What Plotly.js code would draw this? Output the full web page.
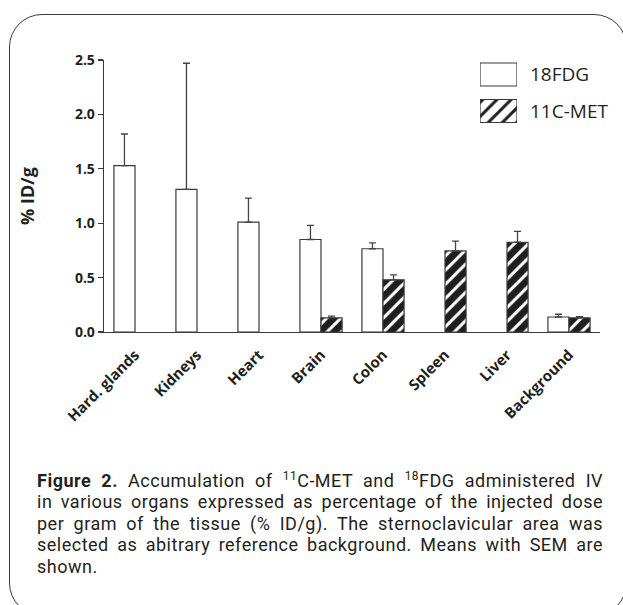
<!DOCTYPE html>
<html>
<head>
<meta charset="utf-8">
<script src="https://cdn.plot.ly/plotly-3.0.1.min.js"></script>
<style>
  html, body { margin:0; padding:0; width:623px; height:605px; overflow:hidden; background:#fff; }
  #frame { position:absolute; left:9px; top:14px; width:618px; height:602px; box-sizing:border-box;
           border:1.4px solid #3a3a3a; border-radius:33px; }
  #chart { position:absolute; left:0; top:0; width:623px; height:605px; }
  .cap { position:absolute; left:37px; width:566px; height:21px; font-family:Roboto, sans-serif; font-size:18px;
         letter-spacing:0.5px; line-height:21px; color:#231f20; text-align:justify; text-align-last:justify; white-space:nowrap; }
  .cap.last { text-align-last:left; }
  .cap b { font-weight:700; }
  .cap sup { font-size:0.66em; vertical-align:top; line-height:1; position:relative; top:1px; }
</style>
</head>
<body>
<div id="frame"></div>
<div id="chart"></div>
<div class="cap" style="top:470px"><b>Figure 2.</b> Accumulation of <sup>11</sup>C-MET and <sup>18</sup>FDG administered IV</div>
<div class="cap" style="top:491.4px">in various organs expressed as percentage of the injected dose</div>
<div class="cap" style="top:512.8px">per gram of the tissue (% ID/g). The sternoclavicular area was</div>
<div class="cap" style="top:534.2px">selected as abitrary reference background. Means with SEM are</div>
<div class="cap last" style="top:555.6px">shown.</div>
<script>
// ---- data ----
const organs = ['Hard. glands', 'Kidneys', 'Heart', 'Brain', 'Colon', 'Spleen', 'Liver', 'Background'];
const seriesNames = ['18FDG', '11C-MET'];
const fdgMean = [1.53, 1.31, 1.01, 0.85, 0.765, null, null, 0.138];
const fdgSem  = [0.29, 1.16, 0.22, 0.13, 0.055, null, null, 0.025];
const metMean = [null, null, null, 0.13, 0.48, 0.745, 0.825, 0.13];
const metSem  = [null, null, null, 0.015, 0.045, 0.09, 0.10, 0.01];
const yTicks = [0, 0.5, 1.0, 1.5, 2.0, 2.5];
const legendY = [1, 0];

const txt = '#231f20';
const lineCol = '#3a3a3a';
const hatchBg = '#1e1e1e';
const fontFam = "'Open Sans', sans-serif";

function errBar(sem) {
  return { type:'data', symmetric:false, array:sem, arrayminus:sem.map(v => v === null ? null : 0),
           color:'#444', thickness:1.3, width:3.5, visible:true };
}

const traces = [
  { type:'bar', name:seriesNames[0], x:organs, y:fdgMean, error_y:errBar(fdgSem),
    marker:{ color:'#ffffff', line:{ color:lineCol, width:1.2 } }, xaxis:'x', yaxis:'y' },
  { type:'bar', name:seriesNames[1], x:organs, y:metMean, error_y:errBar(metSem),
    marker:{ color:hatchBg, line:{ color:lineCol, width:1.2 },
             pattern:{ shape:'/', fgcolor:'#ffffff', bgcolor:hatchBg, size:10, solidity:0.3 } },
    xaxis:'x', yaxis:'y' },
  // legend swatches
  { type:'bar', orientation:'h', x:[1, 1], y:legendY, width:0.63, base:0,
    marker:{ color:['#ffffff', hatchBg], line:{ color:lineCol, width:1.2 },
             pattern:{ shape:['', '/'], fgcolor:'#ffffff', bgcolor:['#ffffff', hatchBg], size:10, solidity:0.3 } },
    xaxis:'x2', yaxis:'y2', hoverinfo:'skip' }
];

const layout = {
  width:623, height:605,
  margin:{ l:104, r:23, t:60, b:273, autoexpand:false },
  paper_bgcolor:'rgba(0,0,0,0)', plot_bgcolor:'rgba(0,0,0,0)',
  showlegend:false,
  barmode:'group', bargap:0.32, bargroupgap:0,
  font:{ family:fontFam, color:txt },
  xaxis:{ type:'category', range:[-0.5, 7.5], showline:true, linecolor:lineCol, linewidth:1.3,
          ticks:'outside', ticklen:7, tickcolor:'rgba(0,0,0,0)', showgrid:false, zeroline:false, tickangle:-45,
          tickfont:{ family:fontFam, size:15, color:txt, weight:'bold' }, fixedrange:true },
  yaxis:{ range:[0, 2.5], tickvals:yTicks, tickformat:'.1f', showline:true, linecolor:lineCol, linewidth:1.3,
          ticks:'outside', ticklen:5, tickcolor:lineCol, tickwidth:1.3, showgrid:false, zeroline:false,
          tickfont:{ family:fontFam, size:14, color:txt, weight:'bold' },
          title:{ text:'% ID/g', font:{ family:fontFam, size:18, color:txt, weight:'bold' }, standoff:35 } },
  xaxis2:{ domain:[(480-104)/496, (517-104)/496], range:[0, 1], visible:false, anchor:'y2', fixedrange:true },
  yaxis2:{ domain:[0.75, 1], range:[-0.466, 1.397], visible:false, anchor:'x2', fixedrange:true },
  annotations: seriesNames.map((n, i) => ({
    text:n, xref:'paper', yref:'y2', x:(528-104)/496, y:legendY[i], xanchor:'left', yanchor:'middle',
    showarrow:false, font:{ family:fontFam, size:19, color:txt }
  }))
};

Plotly.newPlot('chart', traces, layout, { staticPlot:true, displayModeBar:false });
</script>
</body>
</html>
